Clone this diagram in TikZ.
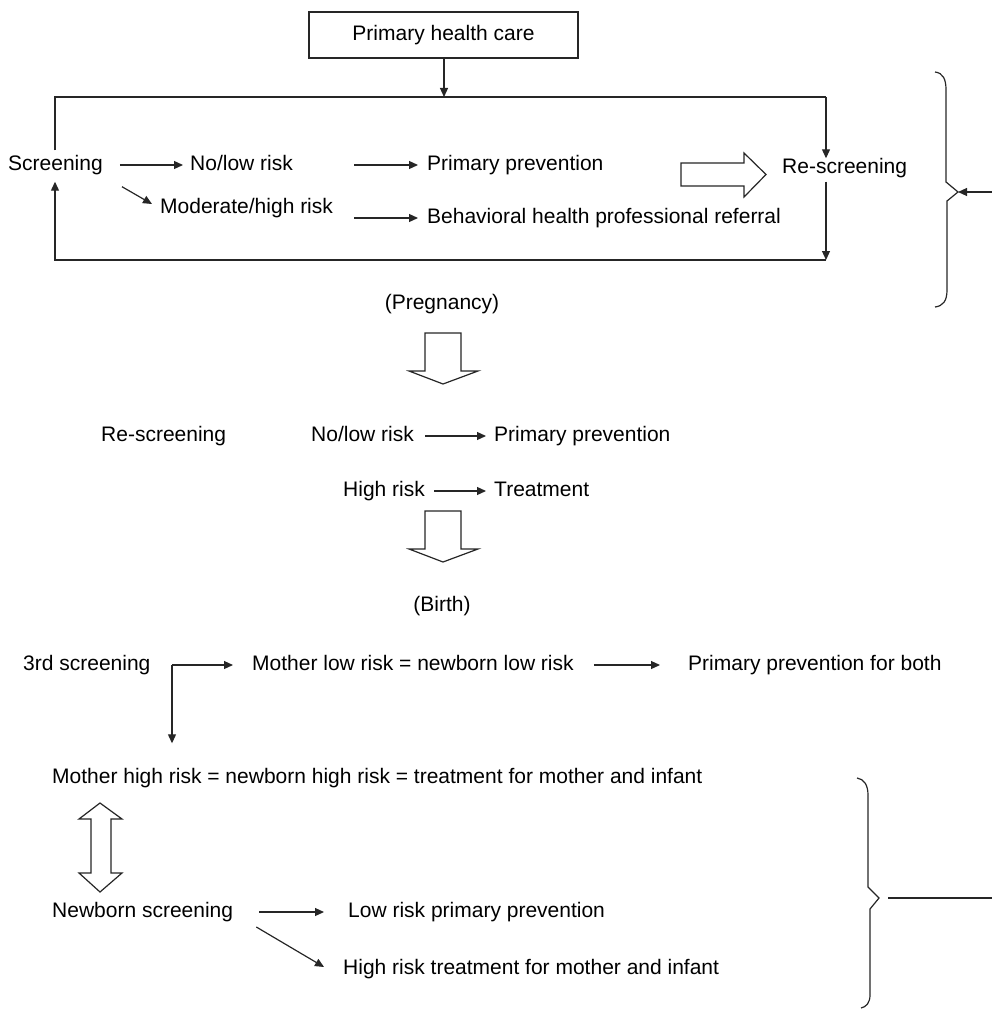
\documentclass[tikz,border=0pt]{standalone}
\usepackage{fontspec}
\setmainfont{Liberation Sans}
\usetikzlibrary{arrows.meta,calc}
\begin{document}
\begin{tikzpicture}[x=1pt,y=-1pt,
  txt/.style={inner sep=0pt, anchor=west, font=\fontsize{21}{25}\selectfont, text height=15pt, text depth=4pt},
  ctxt/.style={txt, anchor=center},
  ln/.style={line width=1.2pt, draw=black!85},
  arr/.style={ln, -{Triangle[length=9pt,width=8pt]}},
  blk/.style={ln, fill=white, line join=miter},
  brc/.style={ln, line join=miter}]
\useasboundingbox (0,0) rectangle (992,1011);

% top box
\node[ctxt, draw, ln, minimum width=269pt, minimum height=46pt] (phc) at (443.5,35) {Primary health care};

% first block texts
\node[txt] (scr) at (8,165) {Screening};
\node[txt] (nolow1) at (190,165) {No/low risk};
\node[txt] (modhigh) at (160,208) {Moderate/high risk};
\node[txt] (pp1) at (427,165) {Primary prevention};
\node[txt] (bhp) at (427,218) {Behavioral health professional referral};
\node[txt] (resc1) at (782,168) {Re-screening};

% loop corners
\coordinate (tl) at (55,97);
\coordinate (tr) at (826,97);
\coordinate (bl) at (55,260);
\coordinate (br) at (826,260);
\coordinate (j) at (444,97);

\draw[arr] (phc.south -| j) -- (j);
\draw[ln] (tl |- scr.north) ++(0,-5) -- (tl) -- (tr);
\draw[arr] (tr) -- (tr |- resc1.north);
\draw[arr] ($(tr |- resc1.south)+(0,4)$) -- (br);
\draw[arr] (br) -- (bl) -- ($(bl |- scr.south)+(0,7)$);

\draw[arr, shorten <=17pt, shorten >=7pt] (scr.east) -- (nolow1.west);
\draw[arr] ($(scr.south east)+(19,12)$) -- ($(modhigh.west)+(-8,-4)$);
\draw[arr, shorten <=61pt, shorten >=9pt] (nolow1.east) -- (nolow1.east -| pp1.west);
\draw[arr, shorten <=21pt, shorten >=9pt] (modhigh.east |- bhp.west) -- (bhp.west);

% right block arrow
\draw[blk] (681,163) -- (744,163) -- (744,153) -- (766,174.5) -- (744,197) -- (744,186) -- (681,186) -- cycle;

% top brace
\coordinate (b1tip) at (958,192);
\coordinate (b1end) at (992,192);
\draw[brc] (935,72) .. controls (943,73) and (946,79) .. (946,90) -- (946,182) -- (b1tip) -- (947,201) -- (947,290) .. controls (947,301) and (943,306) .. (935,307);
\draw[arr] (b1end) -- (b1tip);

% pregnancy
\node[ctxt] (preg) at (442,304) {(Pregnancy)};
\draw[blk] (425,333) -- (461,333) -- (461,371) -- (478,371) -- (443,384) -- (409,371) -- (425,371) -- cycle;

\node[txt] (resc2) at (101,436) {Re-screening};
\node[txt] (nolow2) at (311,436) {No/low risk};
\node[txt] (pp2) at (494,436) {Primary prevention};
\node[txt] (high) at (343,491) {High risk};
\node[txt] (treat) at (494,491) {Treatment};

\draw[arr, shorten <=11pt, shorten >=8pt] (nolow2.east) -- (nolow2.east -| pp2.west);
\draw[arr, shorten <=9pt, shorten >=8pt] (high.east) -- (high.east -| treat.west);

\draw[blk] (425,511) -- (461,511) -- (461,549) -- (478,549) -- (443,562) -- (409,549) -- (425,549) -- cycle;

% birth
\node[ctxt] (birth) at (442,606) {(Birth)};

\node[txt] (third) at (23,665) {3rd screening};
\node[txt] (mlow) at (252,665) {Mother low risk = newborn low risk};
\node[txt] (ppboth) at (688,665) {Primary prevention for both};
\node[txt] (mhigh) at (52,778) {Mother high risk = newborn high risk = treatment for mother and infant};

\coordinate (el) at (172,665);
\draw[arr, shorten >=19pt] (el) -- (el -| mlow.west);
\draw[arr, shorten >=25pt] (el) -- (el |- mhigh.north);
\draw[arr, shorten <=20pt, shorten >=28pt] (mlow.east) -- (mlow.east -| ppboth.west);

% double arrow
\draw[blk] (100,803) -- (122,819) -- (111,819) -- (111,873) -- (122,873) -- (100,892) -- (79,873) -- (91,873) -- (91,819) -- (79,819) -- cycle;

\node[txt] (nbs) at (52,912) {Newborn screening};
\node[txt] (lowpp) at (348,912) {Low risk primary prevention};
\node[txt] (hightreat) at (343,969) {High risk treatment for mother and infant};

\draw[arr, shorten <=26pt, shorten >=24pt] (nbs.east) -- (nbs.east -| lowpp.west);
\draw[arr] ($(nbs.east)+(23,15)$) -- ($(hightreat.west)+(-19,-2)$);

% bottom brace
\coordinate (b2tip) at (879,898);
\coordinate (b2end) at (992,898);
\draw[brc] (857,778) .. controls (864,779) and (868,785) .. (868,795) -- (868,887) -- (b2tip) -- (870,909) -- (870,995) .. controls (870,1003) and (866,1007) .. (861,1008);
\draw[ln, shorten <=9pt] (b2tip) -- (b2end);
\end{tikzpicture}
\end{document}
